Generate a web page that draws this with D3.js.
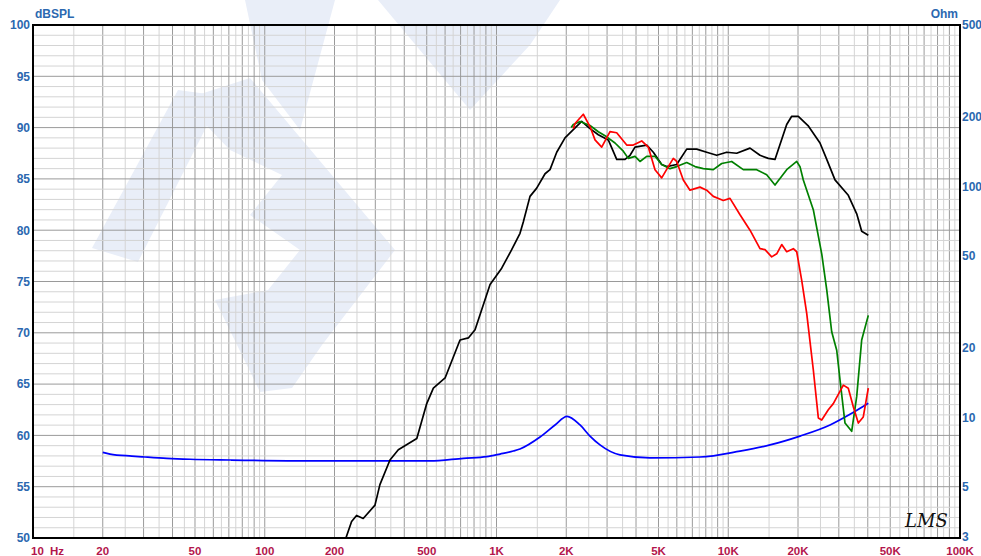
<!DOCTYPE html>
<html>
<head>
<meta charset="utf-8">
<script src="https://cdn.jsdelivr.net/npm/d3@7"></script>
<style>
  body { margin: 0; background: #fff; }
  svg text { font-family: "Liberation Sans", Arial, sans-serif; font-weight: bold; }
</style>
</head>
<body>
<div id="chart"></div>
<script>
// tick labels
var dbTicks = [50, 55, 60, 65, 70, 75, 80, 85, 90, 95, 100];
var ohmTicks = [3, 5, 10, 20, 50, 100, 200, 500];
var freqTicks = [20, 50, 100, 200, 500, 1000, 2000, 5000, 10000, 20000, 50000, 100000];
var freqLabels = ["20", "50", "100", "200", "500", "1K", "2K", "5K", "10K", "20K", "50K", "100K"];

// SPL curves [Hz, dB]
var splBlack = [[224,50.0],[237,51.6],[249,52.2],[266,51.9],[299,53.2],[314,55.2],[347,57.6],[377,58.6],
  [453,59.7],[500,63.1],[534,64.6],[600,65.6],[696,69.3],[756,69.5],[808,70.3],[938,74.7],[1053,76.3],
  [1163,78.1],[1263,79.7],[1305,80.8],[1395,83.3],[1491,84.1],[1620,85.5],[1702,85.9],[1819,87.6],
  [1975,89.0],[2145,89.8],[2331,90.6],[2532,89.9],[2750,89.3],[3037,88.8],[3301,86.9],[3585,86.9],
  [3769,87.3],[3959,88.1],[4447,88.3],[4750,87.6],[5162,86.4],[5425,86.2],[5990,86.4],[6618,87.9],
  [7309,87.9],[8072,87.6],[8915,87.3],[9846,87.6],[10875,87.5],[12413,88.0],[13709,87.3],[14886,87.0],
  [15910,86.9],[17872,90.3],[18785,91.1],[20060,91.1],[22085,90.2],[24882,88.5],[26500,87.0],
  [28880,84.9],[32960,83.4],[35840,81.6],[37650,79.9],[40210,79.5]];

var splRed = [[2145,89.9],[2182,90.4],[2369,91.3],[2532,90.1],[2661,88.8],[2844,88.1],[3089,89.6],
  [3301,89.5],[3646,88.3],[3893,88.3],[4232,88.7],[4519,88.1],[4830,85.9],[5162,85.1],[5512,86.2],
  [5794,87.0],[5990,86.7],[6398,84.9],[6838,83.9],[7551,84.2],[8072,83.9],[8620,83.3],[9520,82.9],
  [10174,83.1],[11240,81.5],[12413,80.0],[13709,78.2],[14407,78.1],[15395,77.4],[16185,77.7],
  [17011,78.6],[17872,77.9],[19086,78.2],[19743,77.9],[20750,75.1],[21806,71.9],[23281,66.4],
  [24471,61.7],[25312,61.5],[27025,62.5],[28403,63.1],[31372,64.9],[32960,64.6],[34640,62.8],
  [36410,61.2],[38253,61.8],[40210,64.6]];

var splGreen = [[2100,90.0],[2145,90.3],[2293,90.6],[2532,90.2],[2750,89.6],[2989,89.1],[3246,88.5],
  [3525,87.7],[3705,87.0],[3959,87.2],[4161,86.7],[4447,87.2],[4830,87.2],[5162,86.4],[5605,86.0],
  [5990,86.2],[6618,86.6],[7187,86.2],[7805,86.0],[8620,85.9],[9370,86.5],[10347,86.7],[11611,85.9],
  [13265,85.9],[14651,85.4],[15910,84.4],[17872,85.9],[19743,86.7],[20400,86.2],[21080,84.9],
  [23281,82.0],[25312,77.7],[26600,74.2],[27950,70.1],[29380,68.3],[30360,65.4],[31900,61.2],
  [34090,60.4],[35840,63.8],[37650,69.3],[40210,71.7]];

// impedance [Hz, Ohm]
var impBlue = [[20,7.05],[21.5,6.93],[26.7,6.79],[30.4,6.73],[37.8,6.64],[47.6,6.58],[70.8,6.53],
  [162,6.47],[516,6.47],[720,6.64],[907,6.75],[1036,6.93],[1182,7.14],[1263,7.29],[1541,8.21],
  [1789,9.26],[2015,10.1],[2293,9.26],[2532,8.29],[2796,7.59],[3411,6.87],[4596,6.67],[7551,6.73],
  [11240,7.14],[15140,7.59],[20400,8.29],[27490,9.26],[33530,10.3],[40210,11.5]];

// plot box
var box = {left: 33, right: 960, top: 25, bottom: 538};

var x = d3.scaleLog().domain([10, 100000]).range([box.left, box.right]);
var y = d3.scaleLinear().domain([50, 100]).range([box.bottom, box.top]);
var yOhm = d3.scaleLog().domain([3, 500]).range([box.bottom, box.top]);

var svg = d3.select("#chart").append("svg")
  .attr("width", 981)
  .attr("height", 556);

// faint watermark logo
var wm = svg.append("g").attr("fill", "#e9eef8");
wm.append("path").attr("d", "M92,248 L178,90 L222,96 L138,262 Z");
wm.append("path").attr("d", "M182,100 L250,78 L395,250 L322,345 L292,388 L260,392 L215,300 L268,290 L300,250 L250,215 L282,175 L230,150 Z");
wm.append("path").attr("d", "M245,0 L335,0 L300,130 L262,80 Z");
wm.append("path").attr("d", "M378,0 L560,0 L530,45 L470,110 Z");

// vertical grid
var minor = [], major = [];
[10, 100, 1000, 10000].forEach(function(d) {
  for (var k = 1; k <= 9; k++) {
    if (k > 1) major.push(k * d);
    minor.push((k + 0.5) * d);
  }
  major.push(d);
});
svg.append("g").selectAll("line").data(minor).enter().append("line")
  .attr("x1", function(d) { return x(d); }).attr("x2", function(d) { return x(d); })
  .attr("y1", box.top).attr("y2", box.bottom)
  .attr("stroke", "#d4d4d4").attr("stroke-width", 1);
svg.append("g").selectAll("line").data(major).enter().append("line")
  .attr("x1", function(d) { return x(d); }).attr("x2", function(d) { return x(d); })
  .attr("y1", box.top).attr("y2", box.bottom)
  .attr("stroke", "#9a9a9a").attr("stroke-width", 1);

// horizontal grid, 1 dB light and 5 dB dark
var hLines = d3.range(51, 100);
svg.append("g").selectAll("line").data(hLines).enter().append("line")
  .attr("x1", box.left).attr("x2", box.right)
  .attr("y1", function(d) { return y(d); }).attr("y2", function(d) { return y(d); })
  .attr("stroke", function(d) { return d % 5 === 0 ? "#9a9a9a" : "#d4d4d4"; })
  .attr("stroke-width", 1);

// curves
svg.append("clipPath").attr("id", "plot").append("rect")
  .attr("x", box.left).attr("y", box.top)
  .attr("width", box.right - box.left).attr("height", box.bottom - box.top);

var splLine = d3.line()
  .x(function(d) { return x(d[0]); })
  .y(function(d) { return y(d[1]); });
var ohmLine = d3.line()
  .curve(d3.curveMonotoneX)
  .x(function(d) { return x(d[0]); })
  .y(function(d) { return yOhm(d[1]); });

var curves = svg.append("g").attr("clip-path", "url(#plot)").attr("fill", "none")
  .attr("stroke-width", 1.7).attr("stroke-linejoin", "round");
curves.append("path").attr("d", ohmLine(impBlue)).attr("stroke", "#0000ff");
curves.append("path").attr("d", splLine(splBlack)).attr("stroke", "#000000");
curves.append("path").attr("d", splLine(splGreen)).attr("stroke", "#008000");
curves.append("path").attr("d", splLine(splRed)).attr("stroke", "#ff0000");

// frame
svg.append("rect")
  .attr("x", box.left).attr("y", box.top)
  .attr("width", box.right - box.left).attr("height", box.bottom - box.top)
  .attr("fill", "none").attr("stroke", "#000").attr("stroke-width", 2);

// left axis labels
svg.append("g").selectAll("text").data(dbTicks).enter().append("text")
  .attr("x", 30).attr("y", function(d) { return y(d); })
  .attr("dy", "0.36em")
  .attr("text-anchor", "end")
  .attr("font-size", 12).attr("fill", "#2b68b0")
  .text(function(d) { return d; });
svg.append("text").attr("x", 35).attr("y", 18).attr("font-size", 12).attr("fill", "#2b68b0").text("dBSPL");

// right axis labels
svg.append("g").selectAll("text").data(ohmTicks).enter().append("text")
  .attr("x", 962).attr("y", function(d) { return yOhm(d); })
  .attr("dy", function(d) { return d === 3 ? "0.25em" : "0.36em"; })
  .attr("font-size", 12).attr("fill", "#2b68b0")
  .text(function(d) { return d; });
svg.append("text").attr("x", 958).attr("y", 18).attr("text-anchor", "end")
  .attr("font-size", 12).attr("fill", "#2b68b0").text("Ohm");

// bottom axis labels
svg.append("g").selectAll("text").data(freqTicks).enter().append("text")
  .attr("x", function(d) { return x(d); }).attr("y", 555)
  .attr("text-anchor", "middle")
  .attr("font-size", 11.5).attr("fill", "#b3154c")
  .text(function(d, i) { return freqLabels[i]; });
svg.append("text").attr("x", 31).attr("y", 555).attr("font-size", 11.5).attr("fill", "#b3154c").text("10");
svg.append("text").attr("x", 50).attr("y", 555).attr("font-size", 11.5).attr("fill", "#b3154c").text("Hz");

// signature
svg.append("text").attr("x", 905).attr("y", 527)
  .attr("font-size", 18).attr("font-style", "italic").style("font-weight", "normal")
  .style("font-family", "DejaVu Serif, serif").attr("fill", "#111")
  .text("LMS");
</script>
</body>
</html>
